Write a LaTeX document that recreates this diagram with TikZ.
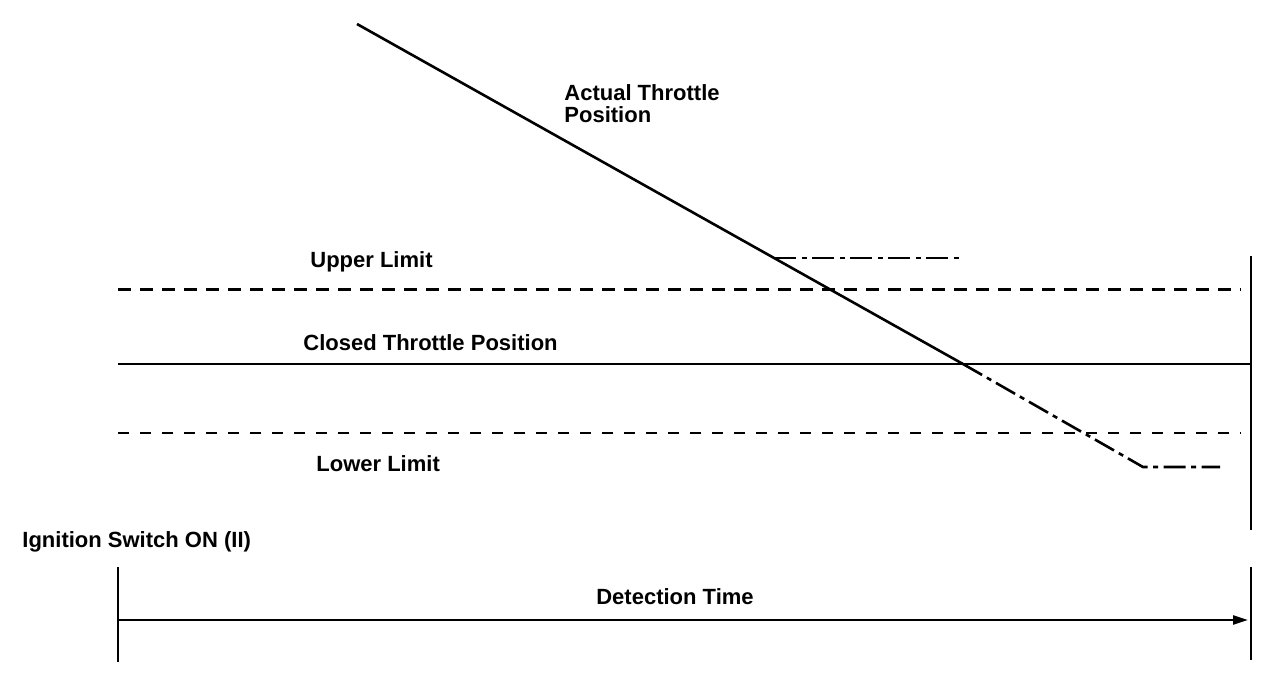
\documentclass[tikz,border=0pt]{standalone}
\usepackage{fontspec}
\setmainfont{Liberation Sans}
\usetikzlibrary{arrows.meta}
\begin{document}
\begin{tikzpicture}[x=0.5pt,y=-0.5pt,
  txt/.style={anchor=base west,inner sep=0pt,font=\bfseries\fontsize{11pt}{11pt}\selectfont},
  limup/.style={line width=1.5pt,dash pattern=on 6.3pt off 4.7pt},
  limlow/.style={line width=0.9pt,dash pattern=on 5.5pt off 5.5pt},
  dashdot/.style={line width=1.3pt,dash pattern=on 11pt off 2.75pt on 2.5pt off 2.75pt}]
\useasboundingbox (0,0) rectangle (1280,682);
% labels
\node[txt,align=left] (actual) at (564,122) {Actual Throttle\\Position};
\node[txt] (upper) at (310,267) {Upper Limit};
\node[txt] (closed) at (303,350) {Closed Throttle Position};
\node[txt] (lower) at (316,471) {Lower Limit};
\node[txt] (ign) at (22,547) {Ignition Switch ON (II)};
\node[txt,anchor=base] (det) at (675,604) {Detection Time};
% end points
\coordinate (a1) at (357,24);
\coordinate (a2) at (774,258);
\coordinate (a3) at (963,364);
\coordinate (a4) at (1143,467);
\coordinate (a5) at (1220,467);
\coordinate (u1) at (960,258);
\coordinate (ul) at (118,289);
\coordinate (ur) at (1241,289);
\coordinate (cl) at (118,364);
\coordinate (cr) at (1251,364);
\coordinate (ll) at (118,433);
\coordinate (lr) at (1241,433);
\coordinate (r1) at (1251,256);
\coordinate (r2) at (1251,530);
\coordinate (t1) at (118,567);
\coordinate (t2) at (118,662);
\coordinate (t3) at (1251,567);
\coordinate (t4) at (1251,660);
\coordinate (s) at (118,620);
\coordinate (e) at (1248,620);
% limits
\path[draw,limup] (ul) -- (ur);
\path[draw,line width=0.6pt] (cl) -- (cr);
\path[draw,limlow] (ll) -- (lr);
\path[draw,line width=1.2pt] (r1) -- (r2);
% throttle
\path[draw,line width=1.3pt] (a1) -- (a3);
\path[draw,dashdot] (a2) -- (u1);
\path[draw,dashdot] (a3) -- (a4) -- (a5);
% time
\path[draw,line width=0.6pt] (t1) -- (t2);
\path[draw,line width=1.2pt] (t3) -- (t4);
\path[draw,line width=1.2pt,-{Triangle[length=7.5pt,width=4.5pt]}] (s) -- (e);
\end{tikzpicture}
\end{document}
